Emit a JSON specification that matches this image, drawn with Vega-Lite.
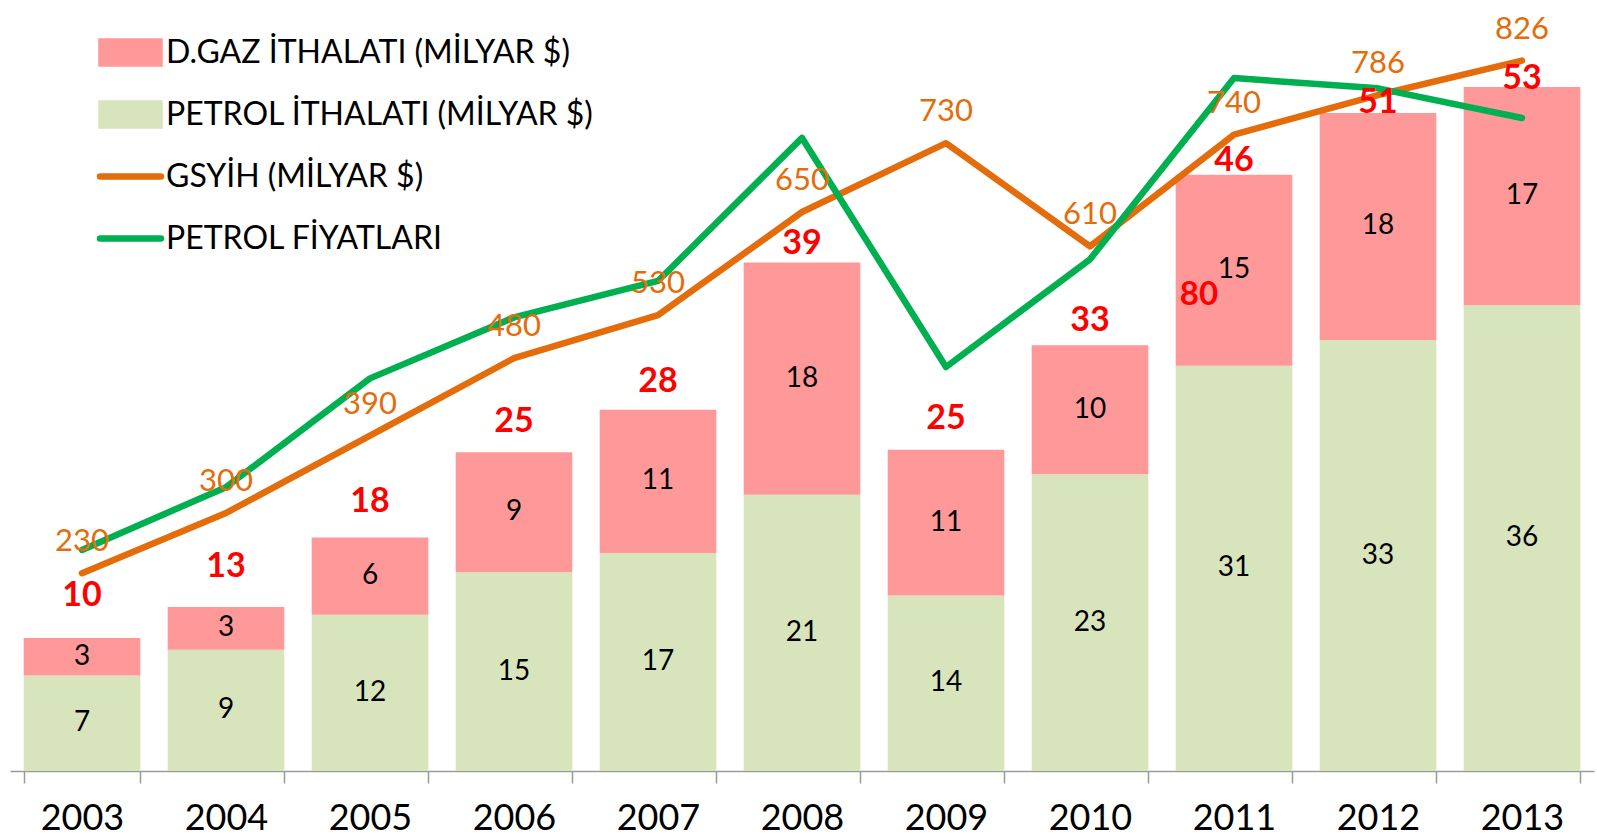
{
  "$schema": "https://vega.github.io/schema/vega-lite/v6.json",
  "width": 1584,
  "height": 771,
  "autosize": {"type": "none"},
  "padding": {"left": 10, "top": 0, "right": 3, "bottom": 67},
  "background": "white",
  "config": {"view": {"stroke": null}, "font": "Lato"},
  "datasets": {
    "ithalat": [
      {"year": "2003", "series": "PETROL İTHALATI (MİLYAR $)", "value": 7.4},
      {"year": "2003", "series": "D.GAZ İTHALATI (MİLYAR $)", "value": 2.9},
      {"year": "2004", "series": "PETROL İTHALATI (MİLYAR $)", "value": 9.4},
      {"year": "2004", "series": "D.GAZ İTHALATI (MİLYAR $)", "value": 3.3},
      {"year": "2005", "series": "PETROL İTHALATI (MİLYAR $)", "value": 12.1},
      {"year": "2005", "series": "D.GAZ İTHALATI (MİLYAR $)", "value": 6.0},
      {"year": "2006", "series": "PETROL İTHALATI (MİLYAR $)", "value": 15.4},
      {"year": "2006", "series": "D.GAZ İTHALATI (MİLYAR $)", "value": 9.3},
      {"year": "2007", "series": "PETROL İTHALATI (MİLYAR $)", "value": 16.9},
      {"year": "2007", "series": "D.GAZ İTHALATI (MİLYAR $)", "value": 11.1},
      {"year": "2008", "series": "PETROL İTHALATI (MİLYAR $)", "value": 21.4},
      {"year": "2008", "series": "D.GAZ İTHALATI (MİLYAR $)", "value": 18.0},
      {"year": "2009", "series": "PETROL İTHALATI (MİLYAR $)", "value": 13.6},
      {"year": "2009", "series": "D.GAZ İTHALATI (MİLYAR $)", "value": 11.3},
      {"year": "2010", "series": "PETROL İTHALATI (MİLYAR $)", "value": 23.0},
      {"year": "2010", "series": "D.GAZ İTHALATI (MİLYAR $)", "value": 10.0},
      {"year": "2011", "series": "PETROL İTHALATI (MİLYAR $)", "value": 31.4},
      {"year": "2011", "series": "D.GAZ İTHALATI (MİLYAR $)", "value": 14.8},
      {"year": "2012", "series": "PETROL İTHALATI (MİLYAR $)", "value": 33.4},
      {"year": "2012", "series": "D.GAZ İTHALATI (MİLYAR $)", "value": 17.6},
      {"year": "2013", "series": "PETROL İTHALATI (MİLYAR $)", "value": 36.1},
      {"year": "2013", "series": "D.GAZ İTHALATI (MİLYAR $)", "value": 16.9}
    ],
    "gsyih": [
      {"year": "2003", "series": "GSYİH (MİLYAR $)", "value": 230},
      {"year": "2004", "series": "GSYİH (MİLYAR $)", "value": 300},
      {"year": "2005", "series": "GSYİH (MİLYAR $)", "value": 390},
      {"year": "2006", "series": "GSYİH (MİLYAR $)", "value": 480},
      {"year": "2007", "series": "GSYİH (MİLYAR $)", "value": 530},
      {"year": "2008", "series": "GSYİH (MİLYAR $)", "value": 650},
      {"year": "2009", "series": "GSYİH (MİLYAR $)", "value": 730},
      {"year": "2010", "series": "GSYİH (MİLYAR $)", "value": 610},
      {"year": "2011", "series": "GSYİH (MİLYAR $)", "value": 740},
      {"year": "2012", "series": "GSYİH (MİLYAR $)", "value": 786},
      {"year": "2013", "series": "GSYİH (MİLYAR $)", "value": 826}
    ],
    "fiyat": [
      {"year": "2003", "series": "PETROL FİYATLARI", "value": 28.6},
      {"year": "2004", "series": "PETROL FİYATLARI", "value": 39.6},
      {"year": "2005", "series": "PETROL FİYATLARI", "value": 58.7},
      {"year": "2006", "series": "PETROL FİYATLARI", "value": 69.4},
      {"year": "2007", "series": "PETROL FİYATLARI", "value": 75.8},
      {"year": "2008", "series": "PETROL FİYATLARI", "value": 100.9},
      {"year": "2009", "series": "PETROL FİYATLARI", "value": 60.7},
      {"year": "2010", "series": "PETROL FİYATLARI", "value": 79.6},
      {"year": "2011", "series": "PETROL FİYATLARI", "value": 111.4},
      {"year": "2012", "series": "PETROL FİYATLARI", "value": 109.6},
      {"year": "2013", "series": "PETROL FİYATLARI", "value": 104.4}
    ]
  },
  "encoding": {
    "x": {
      "field": "year",
      "type": "ordinal",
      "scale": {"paddingInner": 0.19, "paddingOuter": 0.095},
      "axis": {
        "title": null,
        "tickBand": "extent",
        "domainColor": "#9a9a9a",
        "domainWidth": 1.5,
        "tickColor": "#9a9a9a",
        "tickWidth": 1.5,
        "tickSize": 12,
        "labelFont": "Lato",
        "labelFontSize": 36,
        "labelColor": "#000000",
        "labelAngle": 0,
        "labelPadding": 18,
        "labelBaseline": "top"
      }
    }
  },
  "layer": [
    {
      "data": {"name": "ithalat"},
      "mark": {"type": "bar"},
      "encoding": {
        "y": {"field": "value", "type": "quantitative", "stack": "zero", "scale": {"domain": [0, 59.75], "nice": false}, "axis": null},
        "color": {
          "field": "series",
          "type": "nominal",
          "scale": {
            "domain": ["D.GAZ İTHALATI (MİLYAR $)", "PETROL İTHALATI (MİLYAR $)", "GSYİH (MİLYAR $)", "PETROL FİYATLARI"],
            "range": ["#FF9999", "#D8E4BC", "#E46C0A", "#00B050"]
          },
          "legend": {
            "title": null,
            "orient": "none",
            "legendX": 88,
            "legendY": 20,
            "padding": 0,
            "gridAlign": "all",
            "symbolSize": 3364,
            "symbolType": "M-1,-0.38H1V0.38H-1Z",
            "labelFont": "Lato",
            "labelFontSize": 32,
            "labelColor": "#000000",
            "labelLimit": 800,
            "labelOffset": 3,
            "rowPadding": 5,
            "encode": {
              "symbols": {
                "update": {
                  "shape": {"signal": "(datum.value == 'GSYİH (MİLYAR $)' || datum.value == 'PETROL FİYATLARI') ? 'M-1.05,0H1.05' : 'M-1,-0.38H1V0.38H-1Z'"},
                  "fill": {"signal": "(datum.value == 'GSYİH (MİLYAR $)' || datum.value == 'PETROL FİYATLARI') ? 'transparent' : scale('color', datum.value)"},
                  "stroke": {"signal": "(datum.value == 'GSYİH (MİLYAR $)' || datum.value == 'PETROL FİYATLARI') ? scale('color', datum.value) : 'transparent'"},
                  "strokeWidth": {"value": 6.5},
                  "strokeCap": {"value": "round"},
                  "opacity": {"value": 1},
                  "fillOpacity": {"value": 1},
                  "strokeOpacity": {"value": 1}
                }
              }
            }
          }
        },
        "order": {"field": "series", "sort": "descending"}
      }
    },
    {
      "data": {"name": "ithalat"},
      "mark": {"type": "text", "font": "Lato", "fontSize": 28, "color": "#000000", "baseline": "middle"},
      "encoding": {
        "y": {"field": "value", "type": "quantitative", "stack": "zero", "bandPosition": 0.5, "scale": {"domain": [0, 59.75], "nice": false}, "axis": null},
        "text": {"field": "value", "type": "quantitative", "format": ".0f"},
        "detail": {"field": "series"},
        "order": {"field": "series", "sort": "descending"}
      }
    },
    {
      "data": {"name": "gsyih"},
      "mark": {"type": "line", "strokeWidth": 6.5, "strokeCap": "round", "strokeJoin": "round"},
      "encoding": {
        "y": {"field": "value", "type": "quantitative", "scale": {"domain": [0, 896.5], "nice": false}, "axis": null},
        "color": {"field": "series", "type": "nominal"}
      }
    },
    {
      "data": {"name": "fiyat"},
      "mark": {"type": "line", "strokeWidth": 6.5, "strokeCap": "round", "strokeJoin": "round"},
      "encoding": {
        "y": {"field": "value", "type": "quantitative", "scale": {"domain": [-10.2, 125.1], "nice": false, "zero": false}, "axis": null},
        "color": {"field": "series", "type": "nominal"}
      }
    },
    {
      "data": {"name": "gsyih"},
      "mark": {"type": "text", "font": "Lato", "fontSize": 31, "color": "#E46C0A", "baseline": "middle", "dy": -31},
      "encoding": {
        "y": {"field": "value", "type": "quantitative", "scale": {"domain": [0, 896.5], "nice": false}, "axis": null},
        "text": {"field": "value", "type": "quantitative", "format": ".0f"}
      }
    },
    {
      "data": {"name": "ithalat"},
      "transform": [{"aggregate": [{"op": "sum", "field": "value", "as": "total"}], "groupby": ["year"]}],
      "mark": {"type": "text", "font": "Lato", "fontSize": 34, "fontWeight": "bold", "color": "#FF0000", "baseline": "alphabetic"},
      "encoding": {
        "y": {"field": "total", "type": "quantitative", "scale": {"domain": [-3.28, 60.34], "nice": false, "zero": false}, "axis": null},
        "text": {"field": "total", "type": "quantitative", "format": ".0f"}
      }
    },
    {
      "data": {"name": "fiyat"},
      "transform": [{"filter": "datum.year == '2010'"}],
      "mark": {"type": "text", "font": "Lato", "fontSize": 33, "fontWeight": "bold", "color": "#FF0000", "baseline": "middle", "dx": 109, "dy": 36},
      "encoding": {
        "y": {"field": "value", "type": "quantitative", "scale": {"domain": [-10.2, 125.1], "nice": false, "zero": false}, "axis": null},
        "text": {"field": "value", "type": "quantitative", "format": ".0f"}
      }
    }
  ],
  "resolve": {"scale": {"y": "independent"}}
}
